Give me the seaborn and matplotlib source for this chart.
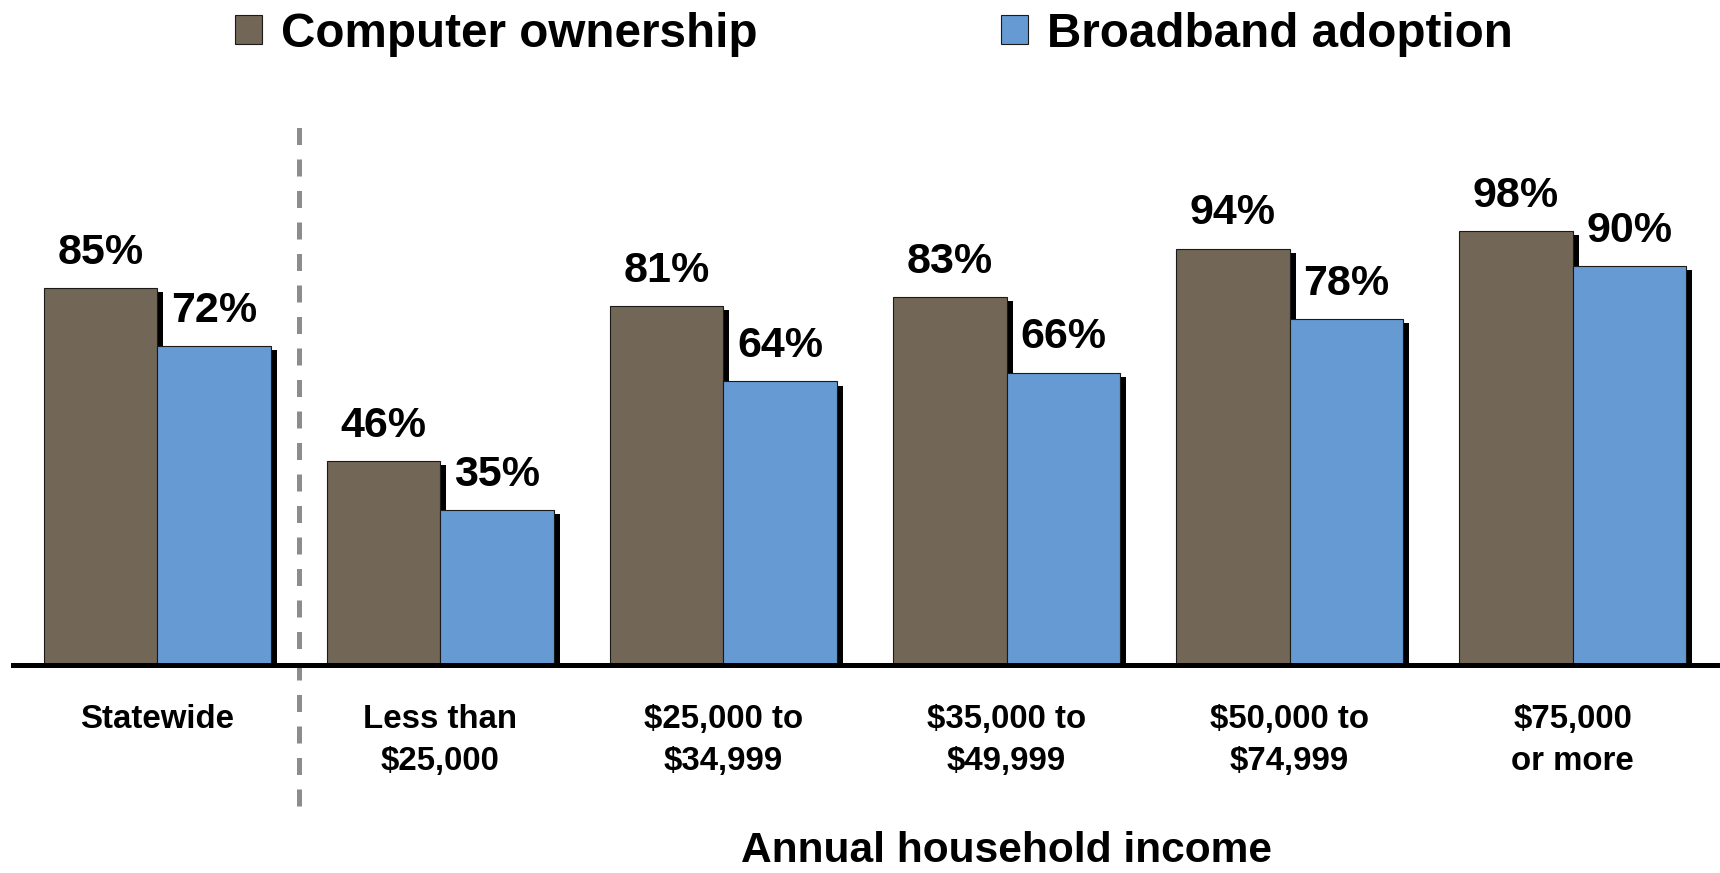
import matplotlib
matplotlib.use("Agg")
import matplotlib.pyplot as plt
import matplotlib.patheffects as pe
import seaborn as sns
import pandas as pd

categories = ["Statewide", "Less than\n$25,000", "$25,000 to\n$34,999",
              "$35,000 to\n$49,999", "$50,000 to\n$74,999", "$75,000\nor more"]
series_names = ["Computer ownership", "Broadband adoption"]
computer_ownership = [85, 46, 81, 83, 94, 98]
broadband_adoption = [72, 35, 64, 66, 78, 90]
colors = ["#726656", "#659AD2"]

df = pd.DataFrame({
    "category": categories * 2,
    "series": [series_names[0]] * len(categories) + [series_names[1]] * len(categories),
    "value": computer_ownership + broadband_adoption,
})

sns.set_style("white")
plt.rcParams["font.family"] = ["Liberation Sans", "DejaVu Sans"]
plt.rcParams["font.weight"] = "bold"
plt.rcParams["text.color"] = "black"
plt.rcParams["xtick.color"] = "black"
plt.rcParams["axes.labelcolor"] = "black"

fig = plt.figure(figsize=(17.2, 8.73), dpi=100)
ax = fig.add_axes([13 / 1720, 208 / 873, 1704 / 1720, 443 / 873])

sns.barplot(data=df, x="category", y="value", hue="series", hue_order=series_names,
            palette=colors, edgecolor="#1a1a1a", linewidth=0.8, width=0.8,
            saturation=1, ax=ax, legend=True)

handles, labels = ax.get_legend_handles_labels()
ax.get_legend().remove()

shadow = [pe.SimplePatchShadow(offset=(4.3, -2.9), shadow_rgbFace="black", alpha=1.0), pe.Normal()]
for cont in ax.containers:
    for bar in cont:
        bar.set_path_effects(shadow)
    ax.bar_label(cont, labels=[f"{v:.0f}%" for v in cont.datavalues], padding=11,
                 fontsize=31, fontweight="bold", color="black")

ax.set_ylim(0, 100)
ax.set_xlim(-0.51, 5.51)
ax.set_yticks([])
ax.set_ylabel("")
for s in ["top", "right", "left"]:
    ax.spines[s].set_visible(False)
ax.spines["bottom"].set_linewidth(3.6)
ax.spines["bottom"].set_color("black")
ax.tick_params(axis="x", length=0, pad=28, labelsize=23.8, labelcolor="black")
for t in ax.get_xticklabels():
    t.set_fontweight("bold")
    t.set_linespacing(1.45)

# separator between statewide and income groups
ln = ax.axvline(0.5, ymin=-0.318, ymax=1.235, color="#8c8c8c", lw=3.6, clip_on=False)
ln.set_dashes((3.4, 2.9))

ax.set_xlabel("Annual household income", fontsize=30.6, fontweight="bold", color="black")
ax.xaxis.label.set_va("baseline")
ax.xaxis.set_label_coords((3 + 0.51) / 6.02, -(862 - 665) / 443)

fig.legend(handles, labels, loc="center", bbox_to_anchor=(0.508, 0.961), ncol=2,
           frameon=False, handlelength=0.57, handleheight=0.57,
           handletextpad=0.4, columnspacing=5.1, prop={"weight": "bold", "size": 34.3},
           labelcolor="black")

fig.savefig("out.png", dpi=100)
